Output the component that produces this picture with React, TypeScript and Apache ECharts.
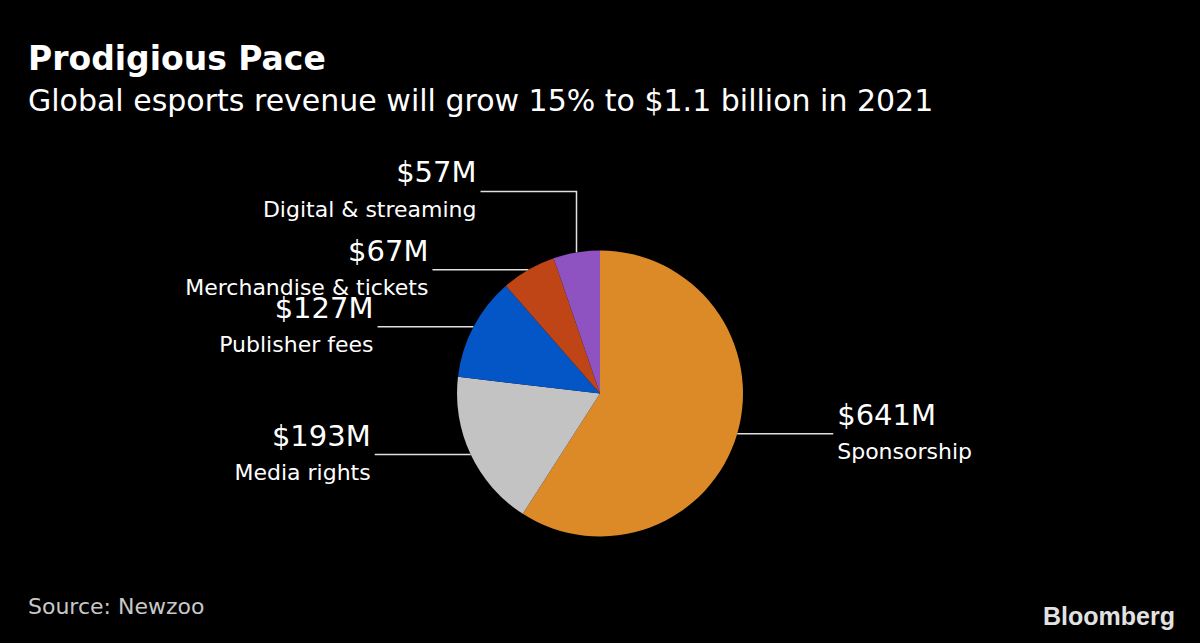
import React, { useEffect, useRef } from "react";
import * as echarts from "echarts";

const categories = ["Sponsorship", "Media rights", "Publisher fees", "Merchandise & tickets", "Digital & streaming"];
const revenue = [641, 193, 127, 67, 57];
const colors = ["#dc8a27", "#c3c3c3", "#0456c6", "#bf4517", "#8f52c1"];

const TITLE = "Prodigious Pace";
const SUBTITLE = "Global esports revenue will grow 15% to $1.1 billion in 2021";
const SOURCE = "Source: Newzoo";

const FONT = "'DejaVu Sans', sans-serif";
const CX = 600;
const CY = 393.5;
const R = 143;
const LINE_LEN = 96;
const GAP = 4;
const LABEL_LIFT: Record<string, number> = { "Digital & streaming": 61 };

export default function App() {
  const ref = useRef<HTMLDivElement>(null);

  useEffect(() => {
    if (!ref.current) return;
    const chart = echarts.init(ref.current, undefined, { renderer: "svg" });
    const total = revenue.reduce((a, b) => a + b, 0);
    const starts: number[] = [];
    let acc = 0;
    revenue.forEach((v) => {
      starts.push(acc);
      acc += v;
    });

    chart.setOption({
      animation: false,
      backgroundColor: "#000000",
      graphic: [
        {
          type: "text",
          left: 28,
          top: 42,
          style: { text: TITLE, fill: "#ffffff", font: `bold 33px ${FONT}` },
        },
        {
          type: "text",
          left: 28,
          top: 85,
          style: { text: SUBTITLE, fill: "#ffffff", font: `30px ${FONT}` },
        },
        {
          type: "text",
          left: 28,
          top: 595,
          style: { text: SOURCE, fill: "#c8c8c8", font: `22px ${FONT}` },
        },
        {
          type: "text",
          right: 25,
          top: 603,
          style: { text: "Bloomberg", fill: "#e2e2e2", font: `bold 25px 'Liberation Sans', Arial, sans-serif` },
        },
      ],
      series: [
        {
          type: "pie",
          center: [CX, CY],
          radius: R,
          startAngle: 90,
          clockwise: true,
          avoidLabelOverlap: false,
          itemStyle: { borderWidth: 0 },
          emphasis: { disabled: true },
          data: categories.map((name, i) => ({
            name,
            value: revenue[i],
            itemStyle: { color: colors[i] },
          })),
          label: {
            show: true,
            position: "outside",
            color: "#ffffff",
            fontFamily: FONT,
            formatter: (p: any) => `{v|$${p.value}M}\n{n|${p.name}}`,
            rich: {
              v: { fontSize: 29, lineHeight: 36, color: "#ffffff", fontFamily: FONT },
              n: { fontSize: 22, lineHeight: 38, color: "#ffffff", fontFamily: FONT },
            },
          },
          labelLine: {
            show: true,
            length: 0,
            length2: LINE_LEN,
            lineStyle: { color: "#e0e0e0", width: 1.5 },
          },
          labelLayout: (params: any) => {
            const i = params.dataIndex;
            const mid = ((starts[i] + revenue[i] / 2) / total) * Math.PI * 2;
            const ex = CX + R * Math.sin(mid);
            const ey = CY - R * Math.cos(mid);
            const left = ex < CX;
            const lift = LABEL_LIFT[categories[i]] || 0;
            const ly = ey - lift;
            const endX = left ? ex - LINE_LEN : ex + LINE_LEN;
            return {
              x: left ? endX - GAP : endX + GAP,
              y: ly,
              align: left ? "right" : "left",
              verticalAlign: "middle",
              labelLinePoints: [
                [ex, ey],
                [ex, ly],
                [endX, ly],
              ],
            };
          },
        },
      ],
    });
    return () => chart.dispose();
  }, []);

  return (
    <div
      ref={ref}
      style={{ position: "fixed", left: 0, top: 0, width: 1200, height: 643, background: "#000" }}
    />
  );
}
